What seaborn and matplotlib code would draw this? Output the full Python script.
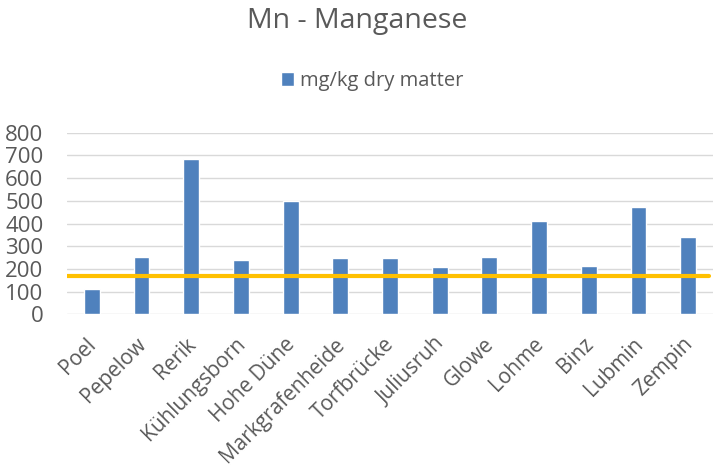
import matplotlib
matplotlib.use("Agg")
import matplotlib.pyplot as plt
import matplotlib.transforms as mtrans
import seaborn as sns
import pandas as pd

sites = ["Poel", "Pepelow", "Rerik", "Kühlungsborn", "Hohe Düne", "Markgrafenheide",
         "Torfbrücke", "Juliusruh", "Glowe", "Lohme", "Binz", "Lubmin", "Zempin"]
mn_values = [110, 254, 684, 239, 499, 247, 247, 210, 254, 410, 211, 473, 340]
reference_value = 170
y_ticks = [0, 100, 200, 300, 400, 500, 600, 700, 800]

sns.set_style("white")
plt.rcParams['font.family'] = ['Open Sans', 'DejaVu Sans']
text_color = "#595959"

df = pd.DataFrame({"site": sites, "value": mn_values})

fig = plt.figure(figsize=(7.15, 4.68), dpi=100)
ax = fig.add_axes([67 / 715, 1 - 314.3 / 468, 646 / 715, 181.6 / 468])

sns.barplot(data=df, x="site", y="value", color="#4F81BD", width=0.32,
            saturation=1, ax=ax, zorder=3, label="mg/kg dry matter")
ax.axhline(reference_value, xmin=0, xmax=0.994, color="#FFC000", lw=3, zorder=4)

ax.set_ylim(0, 800)
ax.set_xlim(-0.5, len(sites) - 0.5)
ax.set_yticks(y_ticks)
ax.yaxis.grid(True, color="#D9D9D9", lw=1)
ax.set_axisbelow(True)
for s in ax.spines.values():
    s.set_visible(False)
ax.set_xlabel("")
ax.set_ylabel("")
ax.tick_params(axis="both", length=0, colors=text_color)
ax.tick_params(axis="y", pad=17, labelsize=16)
ax.set_xticks(range(len(sites)))
ax.set_xticklabels(sites, rotation=45, ha="right", va="top", rotation_mode="anchor")
ax.tick_params(axis="x", pad=14, labelsize=15)
shift = mtrans.ScaledTranslation(-0.06, 0, fig.dpi_scale_trans)
for lab in ax.get_xticklabels():
    lab.set_transform(lab.get_transform() + shift)

fig.text(0.5, 1 - 28 / 468, "Mn - Manganese", ha="center", va="baseline",
         fontsize=20.5, color=text_color)
leg = ax.legend(loc="center", frameon=False,
                fontsize=14.5, handlelength=0.65, handleheight=0.65, handletextpad=0.3,
                labelcolor=text_color)
leg.set_bbox_to_anchor((372 / 715, 1 - 81 / 468), transform=fig.transFigure)

fig.savefig("out.png", dpi=100)
